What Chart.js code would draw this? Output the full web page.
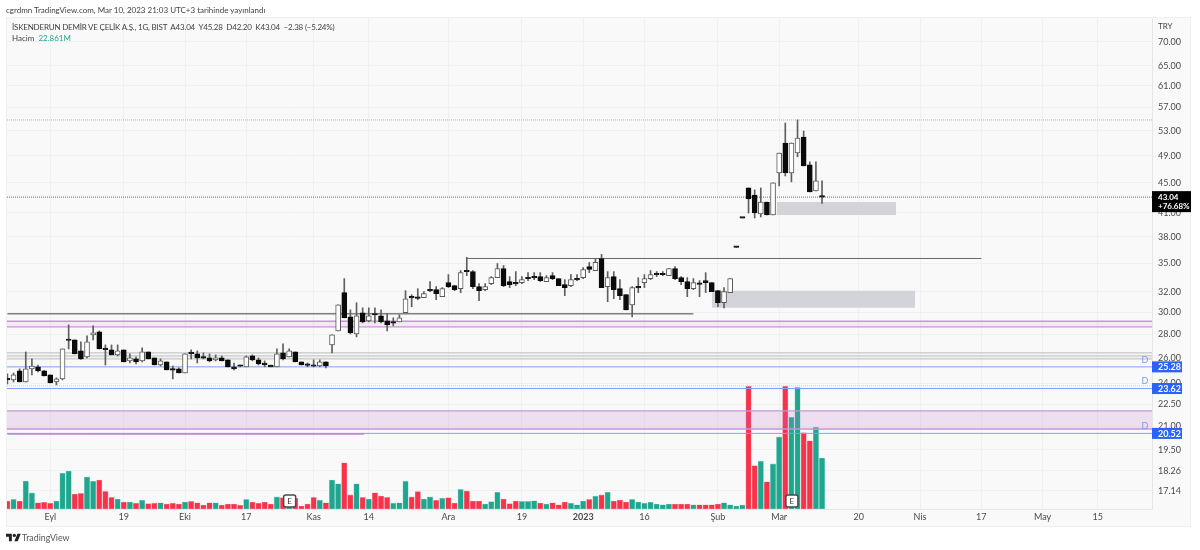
<!DOCTYPE html>
<html>
<head>
<meta charset="utf-8">
<title>ISDMR</title>
<script src="https://cdn.jsdelivr.net/npm/chart.js@4"></script>
<style>
    body { margin: 0; background: #fff; font-family: Lato, sans-serif; }
    #panel { position: absolute; left: 6px; top: 17px; width: 1185px; height: 510px; background: #f9f9f9; border: 1px solid #efefef; box-sizing: border-box; }
    #chart { position: absolute; left: 0; top: 0; }
    .txt { position: absolute; white-space: pre; color: #3f3f46; font-size: 8px; line-height: 11px; }
    #logo { position: absolute; left: 6px; top: 533px; width: 15px; height: 9px; }
</style>
</head>
<body>
<div id="panel"></div>
<canvas id="chart" width="1200" height="550"></canvas>
<div class="txt" style="left:6px;top:5px">cgrdmn TradingView.com, Mar 10, 2023 21:03 UTC+3 tarihinde yayınlandı</div>
<div class="txt" style="left:12px;top:22px;letter-spacing:-0.2px">İSKENDERUN DEMİR VE ÇELİK A.Ş., 1G, BIST  A43.04  Y45.28  D42.20  K43.04  −2.38 (−5.24%)</div>
<div class="txt" style="left:12px;top:33px">Hacim  <span style="color:#22a68f">22.861M</span></div>
<div class="txt" style="left:1158px;top:21px">TRY</div>
<svg id="logo" viewBox="0 4 36 18"><path fill="#222" d="M14 22H7V11H0V4h14v18zM28 22h-8l7.5-18h8L28 22z"/><circle fill="#222" cx="20" cy="8" r="4"/></svg>
<div class="txt" style="left:22px;top:532px;font-size:8.8px;color:#555">TradingView</div>
<script>
/* Daily candles, one entry per bar */
const opens = [
    24.34,24.27,24.96,24.11,25.12,25.28,24.96,24.65,24.11,24.34,
    27.51,27.51,26.58,26.08,27.94,28.21,26.72,26.66,26.25,26.66,
    25.76,25.92,25.76,26.49,26.00,25.43,25.68,25.06,25.12,24.80,
    26.39,26.33,26.02,26.00,25.84,26.00,25.84,25.28,25.37,25.28,
    26.16,25.84,25.59,25.43,25.28,26.41,26.08,26.49,25.68,25.47,
    25.37,25.35,25.68,27.08,28.30,31.90,29.57,28.03,29.95,29.20,
    29.78,29.67,29.20,29.04,29.11,29.95,31.42,31.37,31.40,32.12,
    32.20,31.50,32.92,32.61,32.30,34.10,34.08,32.51,32.20,32.82,
    33.44,34.41,33.02,32.84,32.92,33.36,33.46,33.55,33.02,33.65,
    33.34,32.71,32.61,33.25,33.44,34.62,34.19,35.51,32.51,33.55,
    32.30,31.70,30.71,32.43,32.92,33.34,33.78,33.78,33.65,34.41,
    33.44,33.02,32.30,32.78,33.13,32.92,32.10,30.91,31.90,36.80,
    40.34,44.30,43.33,40.83,42.39,40.70,46.43,51.00,46.43,49.43,
    51.97,47.62,43.88,43.04
]
const highs = [
    24.73,24.80,25.12,26.49,25.92,25.43,25.00,24.65,24.42,26.74,
    28.84,27.51,27.34,27.86,28.75,28.30,27.08,27.08,27.08,26.66,
    26.33,26.08,26.83,26.49,26.00,25.92,25.68,25.35,25.20,26.33,
    26.66,26.58,26.41,26.33,26.25,26.16,25.84,25.59,25.43,26.16,
    26.25,26.00,25.76,25.43,26.74,27.17,26.74,26.49,25.68,25.59,
    25.84,25.84,25.68,27.94,30.71,33.34,30.23,30.91,30.42,30.42,
    30.42,30.23,29.85,29.48,29.76,32.10,31.70,32.30,32.00,33.02,
    32.51,32.41,33.76,32.61,34.19,35.63,34.19,32.82,32.82,33.55,
    34.95,34.73,33.55,34.08,33.55,33.97,33.97,33.97,33.65,33.97,
    33.34,33.23,33.76,33.76,34.51,35.07,35.51,35.97,34.08,34.08,
    33.23,31.70,32.51,33.44,33.76,34.19,34.08,34.08,34.41,34.62,
    33.55,33.44,33.34,33.13,33.97,32.92,32.10,32.41,33.34,36.80,
    40.34,44.30,44.02,44.30,42.39,45.01,49.43,54.30,51.00,54.82,
    52.95,48.07,48.07,45.28
]
const lows = [
    23.96,24.11,24.11,24.11,24.65,24.88,24.57,24.04,23.89,24.27,
    26.74,26.33,25.88,26.00,27.51,26.74,25.43,26.25,26.16,25.68,
    25.59,25.51,25.68,25.92,25.43,25.35,25.04,24.34,24.80,24.80,
    25.92,25.59,25.92,25.68,25.76,25.76,25.28,25.04,25.28,25.28,
    25.76,25.43,25.28,25.28,25.28,25.84,26.08,25.68,25.43,25.28,
    25.28,25.28,25.20,26.41,28.30,29.48,28.03,27.77,29.02,29.11,
    29.02,29.02,28.30,28.75,29.11,29.95,30.52,31.20,31.40,32.00,
    31.20,31.50,32.41,32.10,31.90,33.65,32.30,31.10,32.10,32.71,
    33.44,32.51,32.41,32.61,32.82,33.13,33.23,33.02,33.02,33.23,
    32.61,31.60,32.51,33.13,33.34,33.97,34.19,32.41,31.01,31.30,
    31.20,30.23,29.57,31.90,32.41,33.23,33.55,33.65,33.65,33.23,
    32.71,31.50,32.20,31.50,31.90,32.00,30.52,30.42,31.90,36.76,
    40.30,40.95,40.32,40.45,40.70,40.70,44.58,45.99,45.15,48.84,
    47.46,43.75,43.88,42.20
]
const closes = [
    24.27,24.65,24.11,25.12,25.35,24.96,24.57,24.04,24.34,26.74,
    27.46,26.33,25.92,27.34,28.12,26.74,26.68,26.25,26.58,25.68,
    26.00,25.68,26.49,25.92,25.43,25.76,25.04,25.02,24.80,26.33,
    26.35,26.00,25.98,25.76,26.00,25.76,25.28,25.12,25.33,26.08,
    25.84,25.51,25.43,25.28,26.33,25.92,26.58,25.68,25.43,25.40,
    25.33,25.68,25.35,27.94,30.71,29.48,28.12,29.67,29.11,29.67,
    29.74,29.11,28.84,29.00,29.48,31.30,31.38,31.33,31.80,32.08,
    31.80,32.30,32.51,32.20,33.97,34.06,32.51,32.10,32.51,33.44,
    34.41,32.61,32.71,32.80,33.23,33.32,33.42,33.13,33.44,33.34,
    32.61,32.41,33.23,33.21,34.30,34.30,35.07,32.41,33.44,32.20,
    31.60,30.23,32.41,32.39,33.34,33.76,33.74,33.74,34.41,33.34,
    33.02,32.30,32.92,32.74,32.92,32.00,30.91,32.00,33.34,36.76,
    40.30,42.79,40.95,42.39,40.70,45.01,49.43,46.43,51.00,51.81,
    47.46,43.75,45.29,43.04
]
/* Volume in millions and its direction (1 green, 0 red) */
const volumes = [
    3.6,4.3,3.6,12.5,7.2,2.8,3.0,2.6,3.6,16.0,
    17.0,6.7,7.0,14.3,12.4,13.0,7.9,5.2,4.5,3.1,
    3.1,2.6,3.9,2.4,2.6,2.8,2.2,2.6,2.2,3.1,
    3.4,2.8,1.8,2.8,2.8,1.8,2.2,2.2,1.7,4.3,
    3.1,2.6,3.1,2.2,5.4,5.1,3.0,4.8,1.3,2.2,
    5.2,3.9,2.8,13.0,11.3,20.7,6.3,11.3,5.2,4.5,
    7.3,5.8,5.2,2.6,2.8,12.4,5.4,7.8,4.5,5.4,
    3.9,4.8,5.1,2.7,8.8,8.1,3.6,3.6,2.2,3.3,
    7.5,4.5,2.4,3.6,3.4,3.4,3.7,2.7,2.2,2.8,
    1.9,3.1,2.6,1.9,3.6,4.3,5.7,6.3,7.5,3.6,
    4.0,3.1,4.3,3.1,2.6,3.0,2.2,1.9,2.2,2.2,
    2.2,2.2,1.9,1.9,1.9,1.9,2.2,2.8,1.9,1.3,
    1.8,55.0,19.4,21.4,12.2,20.2,32.3,55.0,41.1,54.5,
    34.2,30.6,36.6,22.86
]
const volumeUp = [
    0,1,0,1,1,0,0,0,1,1,
    1,0,0,1,1,0,0,0,1,0,
    1,0,1,0,0,1,0,0,0,1,
    0,0,0,0,1,0,0,0,0,1,
    0,0,0,0,1,0,1,0,0,0,
    0,1,0,1,1,0,0,1,0,1,
    0,0,0,1,1,1,0,0,1,1,
    0,1,0,0,1,0,0,0,1,1,
    1,0,0,0,1,1,1,0,1,0,
    0,0,1,1,1,0,1,0,1,0,
    0,0,1,1,1,1,1,1,1,0,
    0,0,1,0,0,0,0,1,1,1,
    1,0,0,1,0,1,1,0,1,1,
    0,0,1,1
]
/* Axes */
const priceTicks = [70, 65, 61, 57, 53, 49, 45, 41, 38, 35, 32, 30, 28, 26, 24, 22.5, 21, 19.5, 18.26, 17.14]
const dateTicks = [7, 19, 29, 39, 50, 59, 72, 84, 94, 104, 116, 126, 139, 149, 159, 169, 178]
const dateLabels = ['Eyl', '19', 'Eki', '17', 'Kas', '14', 'Ara', '19', '2023', '16', 'Şub', 'Mar', '20', 'Nis', '17', 'May', '15']
/* Drawn levels and zones: price, first bar, last bar */
const blueLevels = [25.28, 23.62, 20.52]
const grayLevels = [26.41, 26.16, 25.92]
const purpleLevels = [29.17, 28.66, 22.02, 20.81]
const dottedLevels = [54.82, 43.04, 23.82]
const supportLine = [29.85, 0, 112]
const resistanceLine = [35.51, 75, 159]
const purpleShortLine = [20.48, 0, 58.2]
const pinkZones = [[29.17, 28.66], [22.02, 20.81]]
const grayZones = [[42.39, 40.70, 125.6, 145.1], [32.10, 30.42, 115, 148.2]]
const earningsBars = [46, 128]
const lastPrice = 43.04
const lastChange = '+76.68%'

const xMin = -0.065
const xMax = 186.87
const barIndexes = opens.map((v, i) => i)
const red = '#f7334b'
const teal = '#1fa68f'

function levelLine(price, from, to, color, width, dash) {
    return {
        type: 'line',
        data: [{ x: from, y: price }, { x: to, y: price }],
        yAxisID: 'y',
        borderColor: color,
        borderWidth: width,
        borderDash: dash || [],
        pointRadius: 0,
        fill: false,
        order: 10
    }
}

function zone(top, bottom, from, to, color) {
    return {
        type: 'line',
        data: [{ x: from, y: top }, { x: to, y: top }],
        yAxisID: 'y',
        borderWidth: 0,
        pointRadius: 0,
        backgroundColor: color,
        fill: { value: bottom },
        order: 15
    }
}

let datasets = [
    {
        type: 'bar',
        data: barIndexes.map(i => ({ x: i, y: [opens[i], closes[i]] })),
        yAxisID: 'y',
        barThickness: 5,
        minBarLength: 1.5,
        grouped: false,
        borderSkipped: false,
        borderWidth: 1,
        borderColor: barIndexes.map(i => closes[i] > opens[i] ? '#5a5a5a' : '#0b0b0b'),
        backgroundColor: barIndexes.map(i => closes[i] > opens[i] ? '#ffffff' : '#0b0b0b'),
        order: 1
    },
    {
        type: 'bar',
        data: barIndexes.map(i => ({ x: i, y: [lows[i], highs[i]] })),
        yAxisID: 'y',
        barThickness: 1,
        grouped: false,
        backgroundColor: '#5f5f5f',
        order: 2
    },
    {
        type: 'bar',
        data: barIndexes.map(i => ({ x: i, y: volumes[i] })),
        yAxisID: 'volume',
        barThickness: 5.4,
        grouped: false,
        borderSkipped: false,
        borderWidth: 0.6,
        borderColor: barIndexes.map(i => volumeUp[i] ? '#8fd3c7' : '#fb9aa6'),
        backgroundColor: barIndexes.map(i => volumeUp[i] ? teal : red),
        order: 20
    }
]

blueLevels.forEach(p => datasets.push(levelLine(p, xMin, xMax, '#7fa2f6', 1)))
grayLevels.forEach(p => datasets.push(levelLine(p, xMin, xMax, '#c6c6c6', 1.2)))
purpleLevels.forEach(p => datasets.push(levelLine(p, xMin, xMax, '#c795d4', 1.4)))
datasets.push(levelLine(dottedLevels[0], xMin, xMax, '#b3b3b3', 1, [1, 1]))
datasets.push(levelLine(dottedLevels[1], xMin, xMax, '#6e6e6e', 1, [1, 1]))
datasets.push(levelLine(dottedLevels[2], xMin, xMax, '#cfcfcf', 1, [1, 1]))
datasets.push(levelLine(supportLine[0], supportLine[1], supportLine[2], '#444444', 1))
datasets.push(levelLine(resistanceLine[0], resistanceLine[1], resistanceLine[2], '#666666', 1))
datasets.push(levelLine(purpleShortLine[0], purpleShortLine[1], purpleShortLine[2], '#c17fc4', 1.5))
datasets.push(zone(pinkZones[0][0], pinkZones[0][1], xMin, xMax, 'rgba(190,120,205,0.12)'))
datasets.push(zone(pinkZones[1][0], pinkZones[1][1], xMin, xMax, 'rgba(190,120,205,0.2)'))
grayZones.forEach(z => datasets.push(zone(z[0], z[1], z[2], z[3], '#d3d4d9')))

/* Price badges, D marks and earnings boxes, all placed through the scales */
const overlays = {
    id: 'overlays',
    afterDraw(chart) {
        const c = chart.ctx
        const y = chart.scales.y
        const x = chart.scales.x
        const right = chart.chartArea.right
        const bottom = chart.chartArea.bottom
        c.save()
        c.textBaseline = 'middle'
        blueLevels.forEach(p => {
            const py = y.getPixelForValue(p)
            c.fillStyle = '#2962ff'
            c.fillRect(right, py - 5.5, 30, 11)
            c.fillStyle = '#fff'
            c.font = '700 9px Lato'
            c.textAlign = 'left'
            c.fillText(p.toFixed(2), right + 6, py + 0.5)
            c.fillStyle = '#7d9bf2'
            c.font = '9px Lato'
            c.textAlign = 'center'
            c.fillText('D', right - 7, py - 7)
        })
        const ly = y.getPixelForValue(lastPrice)
        c.fillStyle = '#000'
        c.fillRect(right, ly - 6, 39, 21)
        c.fillStyle = '#fff'
        c.font = '700 8px Lato'
        c.textAlign = 'left'
        c.fillText(lastPrice.toFixed(2), right + 6, ly)
        c.fillText(lastChange, right + 6, ly + 9.5)
        earningsBars.forEach(b => {
            const px = x.getPixelForValue(b)
            c.beginPath()
            c.roundRect(px - 5.5, bottom - 14, 12, 12, 2)
            c.fillStyle = '#fff'
            c.fill()
            c.lineWidth = 1.5
            c.strokeStyle = '#4a4a4a'
            c.stroke()
            c.fillStyle = '#333'
            c.font = '8px Lato'
            c.textAlign = 'center'
            c.fillText('E', px + 0.5, bottom - 7.5)
        })
        c.restore()
    }
}

let grafico = new Chart(document.querySelector('#chart').getContext('2d'), {
    type: 'bar',
    data: { datasets: datasets },
    plugins: [overlays],
    options: {
        responsive: false,
        animation: false,
        layout: { padding: { left: 7, top: 18, right: 0, bottom: 0 } },
        plugins: { legend: { display: false }, tooltip: { enabled: false } },
        scales: {
            x: {
                type: 'linear',
                offset: false,
                min: xMin,
                max: xMax,
                afterBuildTicks: s => { s.ticks = dateTicks.map(v => ({ value: v })) },
                afterFit: s => { s.height = 41 },
                grid: { color: '#f0f0f2', offset: false, drawTicks: false },
                border: { color: '#e6e6e6' },
                ticks: {
                    autoSkip: false,
                    maxRotation: 0,
                    padding: 3,
                    color: '#4a4a4a',
                    font: ctx => ({ family: 'Lato', size: 9, weight: ctx.tick && ctx.tick.value === 94 ? '700' : '400' }),
                    callback: v => dateLabels[dateTicks.indexOf(v)]
                }
            },
            y: {
                type: 'logarithmic',
                position: 'right',
                min: 16.19,
                max: 75.47,
                afterBuildTicks: s => { s.ticks = priceTicks.map(v => ({ value: v })) },
                afterFit: s => { s.width = 48 },
                grid: { color: '#f0f0f2', drawTicks: false },
                border: { color: '#e6e6e6' },
                ticks: {
                    autoSkip: false,
                    padding: 6,
                    color: '#4a4a4a',
                    font: { family: 'Lato', size: 9 },
                    callback: v => v.toFixed(2)
                }
            },
            volume: {
                type: 'linear',
                display: false,
                min: 0,
                max: 220
            }
        }
    }
})
</script>
</body>
</html>
